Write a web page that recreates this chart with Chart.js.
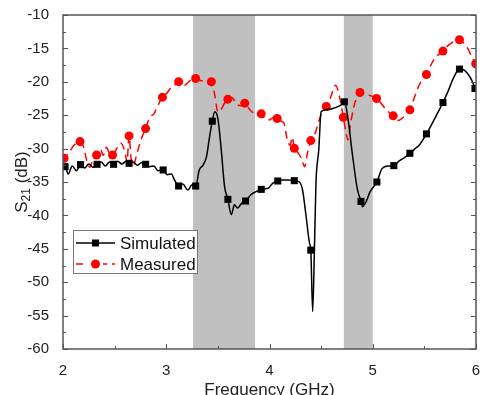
<!DOCTYPE html>
<html>
<head>
<meta charset="utf-8">
<script src="https://cdn.jsdelivr.net/npm/chart.js@4"></script>
<style>
  html, body { margin: 0; padding: 0; background: #fff; }
  #wrap { width: 481px; height: 395px; }
</style>
</head>
<body>
<div id="wrap"><canvas id="chart-s21"></canvas></div>
<script>
// simulated curve (GHz, dB)
const sim_freq = [2.00, 2.02, 2.05, 2.09, 2.13, 2.17, 2.21, 2.25, 2.29, 2.33, 2.37, 2.41, 2.45, 2.49, 2.53, 2.57, 2.61, 2.64, 2.68, 2.72, 2.76, 2.80, 2.84, 2.88, 2.92, 2.97, 3.01, 3.05, 3.08, 3.12, 3.16, 3.21, 3.25, 3.285, 3.32, 3.355, 3.39, 3.42, 3.446, 3.47, 3.50, 3.53, 3.565, 3.597, 3.63, 3.66, 3.69, 3.73, 3.768, 3.82, 3.87, 3.92, 3.96, 3.99, 4.03, 4.08, 4.13, 4.18, 4.24, 4.29, 4.32, 4.355, 4.387, 4.40, 4.418, 4.435, 4.45, 4.477, 4.50, 4.55, 4.63, 4.69, 4.725, 4.76, 4.80, 4.85, 4.886, 4.90, 4.94, 4.97, 5.04, 5.09, 5.15, 5.204, 5.26, 5.31, 5.36, 5.41, 5.45, 5.52, 5.57, 5.62, 5.68, 5.73, 5.78, 5.84, 5.88, 5.92, 5.96, 5.99];
const sim_db = [-33.2, -32.7, -33.8, -32.6, -33.3, -32.4, -32.9, -32.3, -32.8, -32.35, -32.0, -32.6, -32.0, -32.35, -31.9, -32.3, -31.9, -32.2, -32.0, -32.5, -32.1, -32.35, -32.7, -32.6, -33.3, -33.2, -33.9, -33.8, -34.7, -35.6, -35.3, -36.2, -35.4, -35.6, -33.2, -32.5, -31.2, -28.2, -25.9, -24.5, -25.5, -29.7, -35.7, -37.6, -39.9, -38.4, -38.9, -38.2, -37.85, -36.9, -36.45, -36.1, -36.0, -35.9, -35.2, -34.85, -34.7, -34.7, -34.8, -35.0, -36.2, -40.2, -44.1, -45.2, -54.4, -45.2, -35.2, -30.2, -24.5, -24.2, -23.9, -23.5, -23.0, -25.5, -30.5, -36.0, -37.9, -38.7, -37.8, -36.6, -35.0, -33.0, -32.6, -32.55, -31.8, -31.3, -30.7, -30.0, -29.5, -27.8, -26.4, -24.9, -23.1, -21.4, -19.5, -18.1, -18.2, -18.8, -19.8, -21.0];
// simulated markers
const sim_mark_freq = [2.02, 2.17, 2.33, 2.49, 2.64, 2.80, 2.97, 3.12, 3.285, 3.446, 3.597, 3.768, 3.92, 4.08, 4.24, 4.40, 4.725, 4.886, 5.04, 5.204, 5.36, 5.52, 5.68, 5.84, 5.99];
const sim_mark_db = [-32.7, -32.4, -32.35, -32.35, -32.2, -32.35, -33.2, -35.6, -35.6, -25.9, -37.6, -37.85, -36.1, -34.85, -34.8, -45.2, -23.0, -37.9, -35.0, -32.55, -30.7, -27.8, -23.1, -18.1, -21.0];

// measured curve (GHz, dB)
const meas_freq = [2.00, 2.01, 2.06, 2.10, 2.165, 2.20, 2.23, 2.26, 2.29, 2.325, 2.36, 2.39, 2.42, 2.45, 2.48, 2.52, 2.56, 2.60, 2.62, 2.64, 2.66, 2.68, 2.72, 2.76, 2.80, 2.84, 2.88, 2.92, 2.963, 3.00, 3.04, 3.08, 3.12, 3.17, 3.21, 3.25, 3.285, 3.33, 3.38, 3.437, 3.47, 3.50, 3.53, 3.56, 3.597, 3.64, 3.68, 3.72, 3.76, 3.80, 3.84, 3.88, 3.92, 3.96, 4.00, 4.04, 4.074, 4.10, 4.14, 4.17, 4.20, 4.22, 4.24, 4.27, 4.31, 4.34, 4.37, 4.40, 4.44, 4.48, 4.51, 4.55, 4.59, 4.64, 4.68, 4.715, 4.74, 4.76, 4.79, 4.83, 4.876, 4.92, 4.96, 5.00, 5.037, 5.08, 5.12, 5.16, 5.198, 5.24, 5.29, 5.33, 5.36, 5.40, 5.44, 5.48, 5.52, 5.56, 5.60, 5.64, 5.68, 5.72, 5.76, 5.80, 5.84, 5.88, 5.92, 5.96, 5.997];
const meas_db = [-31.8, -31.45, -30.6, -29.6, -28.95, -29.8, -31.8, -32.8, -31.5, -30.95, -30.0, -31.0, -29.8, -30.7, -30.95, -30.0, -29.2, -30.5, -32.0, -28.1, -31.5, -32.5, -30.5, -28.5, -27.0, -25.3, -24.8, -23.5, -22.3, -21.8, -21.0, -20.5, -19.98, -20.6, -20.1, -19.6, -19.5, -19.8, -19.9, -20.0, -22.0, -24.5, -24.2, -23.3, -22.6, -22.4, -23.3, -23.6, -23.2, -24.0, -24.6, -24.6, -24.8, -25.6, -25.7, -25.3, -25.5, -25.8, -26.2, -28.5, -29.5, -28.3, -29.95, -30.5, -31.5, -32.7, -30.5, -28.8, -27.8, -25.8, -24.5, -23.7, -22.4, -20.5, -22.4, -25.3, -27.5, -28.7, -25.8, -23.0, -21.6, -21.7, -22.0, -22.2, -22.5, -23.2, -24.0, -24.6, -25.1, -25.8, -25.4, -24.7, -24.2, -22.5, -20.8, -19.7, -18.9, -17.6, -16.5, -15.9, -15.4, -14.7, -14.2, -13.9, -13.7, -14.2, -15.0, -16.3, -17.3];
// measured markers
const meas_mark_freq = [2.01, 2.165, 2.325, 2.48, 2.64, 2.80, 2.963, 3.12, 3.285, 3.437, 3.597, 3.76, 3.92, 4.074, 4.24, 4.40, 4.55, 4.715, 4.876, 5.037, 5.198, 5.36, 5.52, 5.68, 5.84, 5.997];
const meas_mark_db = [-31.45, -28.95, -30.95, -30.95, -28.1, -27.0, -22.3, -19.98, -19.5, -20.0, -22.6, -23.2, -24.8, -25.5, -29.95, -28.8, -23.7, -25.3, -21.6, -22.5, -25.1, -24.2, -18.9, -15.4, -13.7, -17.3];

// shaded bands (GHz)
const band_start = [3.26, 4.72];
const band_end = [3.86, 5.0];

const series_names = ["Simulated", "Measured"];

const pts = (xs, ys) => xs.map((x, i) => ({ x: x, y: ys[i] }));

const FONT = "'Liberation Sans', Arial, sans-serif";

// grey bands behind the curves
const bands_plugin = {
    id: "bands",
    beforeDatasetsDraw(chart) {
        const ctx = chart.ctx;
        const area = chart.chartArea;
        const xs = chart.scales.x;
        ctx.save();
        ctx.fillStyle = "#c0c0c0";
        for (let i = 0; i < band_start.length; i++) {
            const a = xs.getPixelForValue(band_start[i]);
            const b = xs.getPixelForValue(band_end[i]);
            ctx.fillRect(a, area.top, b - a, area.bottom - area.top);
        }
        ctx.restore();
    },
};

// frame, inward ticks, axis titles, legend
const frame_plugin = {
    id: "frame",
    afterDraw(chart) {
        const ctx = chart.ctx;
        const area = chart.chartArea;
        const xs = chart.scales.x;
        const ys = chart.scales.y;
        ctx.save();
        ctx.strokeStyle = "#555";
        ctx.lineWidth = 1.5;
        ctx.strokeRect(area.left, area.top, area.right - area.left, area.bottom - area.top);

        ctx.lineWidth = 1;
        ctx.beginPath();
        // x ticks (bottom, pointing up)
        for (let v = xs.min; v <= xs.max + 1e-9; v += 0.5) {
            const px = Math.round(xs.getPixelForValue(v)) + 0.5;
            const len = Math.abs(v - Math.round(v)) < 1e-9 ? 5 : 3;
            ctx.moveTo(px, area.bottom);
            ctx.lineTo(px, area.bottom - len);
        }
        // y ticks (left and right, inward)
        for (let v = ys.min; v <= ys.max + 1e-9; v += 2.5) {
            const py = Math.round(ys.getPixelForValue(v)) + 0.5;
            const len = Math.abs(v / 5 - Math.round(v / 5)) < 1e-9 ? 5 : 3;
            ctx.moveTo(area.left, py);
            ctx.lineTo(area.left + len, py);
            ctx.moveTo(area.right, py);
            ctx.lineTo(area.right - len, py);
        }
        ctx.stroke();

        // axis titles
        ctx.fillStyle = "#222";
        ctx.textBaseline = "alphabetic";
        ctx.font = "17px " + FONT;
        ctx.textAlign = "center";
        ctx.fillText("Frequency (GHz)", (area.left + area.right) / 2, 395);

        ctx.save();
        ctx.translate(27, (area.top + area.bottom) / 2);
        ctx.rotate(-Math.PI / 2);
        ctx.textAlign = "left";
        const w_s = ctx.measureText("S").width;
        ctx.font = "12px " + FONT;
        const w_sub = ctx.measureText("21").width;
        ctx.font = "17px " + FONT;
        const w_rest = ctx.measureText(" (dB)").width;
        let x0 = -(w_s + w_sub + w_rest) / 2;
        ctx.fillText("S", x0, 0);
        ctx.font = "12px " + FONT;
        ctx.fillText("21", x0 + w_s, 3);
        ctx.font = "17px " + FONT;
        ctx.fillText(" (dB)", x0 + w_s + w_sub, 0);
        ctx.restore();

        // legend
        const lx = 73, ly = 230, lw = 124, lh = 43;
        ctx.fillStyle = "#fff";
        ctx.fillRect(lx, ly, lw, lh);
        ctx.strokeStyle = "#777";
        ctx.lineWidth = 1;
        ctx.strokeRect(lx + 0.5, ly + 0.5, lw, lh);

        const rows = [ly + 13, ly + 34];
        // simulated
        ctx.strokeStyle = "#000";
        ctx.lineWidth = 1.5;
        ctx.beginPath();
        ctx.moveTo(76, rows[0]);
        ctx.lineTo(115, rows[0]);
        ctx.stroke();
        ctx.fillStyle = "#000";
        ctx.fillRect(95.5 - 3.5, rows[0] - 3.5, 7, 7);
        // measured
        ctx.strokeStyle = "#ff0000";
        ctx.setLineDash([7, 5]);
        ctx.beginPath();
        ctx.moveTo(76, rows[1]);
        ctx.lineTo(115, rows[1]);
        ctx.stroke();
        ctx.setLineDash([]);
        ctx.fillStyle = "#fff";
        ctx.fillRect(88, rows[1] - 5, 15, 10);
        ctx.fillStyle = "#ff0000";
        ctx.beginPath();
        ctx.arc(95.5, rows[1], 4.5, 0, Math.PI * 2);
        ctx.fill();

        ctx.fillStyle = "#111";
        ctx.font = "17px " + FONT;
        ctx.textAlign = "left";
        ctx.textBaseline = "middle";
        ctx.fillText(series_names[0], 120, rows[0] + 1);
        ctx.fillText(series_names[1], 120, rows[1] + 1);
        ctx.restore();
    },
};

const ctx = document.getElementById("chart-s21");

new Chart(ctx, {
    type: "line",
    data: {
        datasets: [
            {
                label: series_names[0],
                data: pts(sim_freq, sim_db),
                borderColor: "#000",
                borderWidth: 1.5,
                pointRadius: 0,
                cubicInterpolationMode: "monotone",
                fill: false,
            },
            {
                label: series_names[0] + " markers",
                data: pts(sim_mark_freq, sim_mark_db),
                showLine: false,
                pointStyle: "rect",
                pointRadius: 5,
                backgroundColor: "#000",
                borderColor: "#000",
                borderWidth: 0,
            },
            {
                label: series_names[1],
                data: pts(meas_freq, meas_db),
                borderColor: "#ff0000",
                borderWidth: 1.5,
                borderDash: [8, 5],
                pointRadius: 0,
                cubicInterpolationMode: "monotone",
                fill: false,
            },
            {
                label: series_names[1] + " markers",
                data: pts(meas_mark_freq, meas_mark_db),
                showLine: false,
                pointStyle: "circle",
                pointRadius: 4.5,
                backgroundColor: "#ff0000",
                borderColor: "#ff0000",
                borderWidth: 0,
            },
        ],
    },
    options: {
        responsive: true,
        maintainAspectRatio: false,
        animation: false,
        layout: { padding: { left: 0, top: 15, right: 3, bottom: 0 } },
        plugins: {
            legend: { display: false },
            tooltip: { enabled: false },
        },
        scales: {
            x: {
                type: "linear",
                min: 2,
                max: 6,
                grid: { display: false },
                border: { display: false },
                ticks: {
                    stepSize: 1,
                    padding: 5,
                    color: "#222",
                    font: { family: FONT, size: 15 },
                    maxRotation: 0,
                },
                afterFit: (scale) => {
                    scale.height = 46;
                    scale.paddingLeft = 0;
                    scale.paddingRight = 0;
                },
            },
            y: {
                type: "linear",
                min: -60,
                max: -10,
                grid: { display: false },
                border: { display: false },
                ticks: {
                    stepSize: 5,
                    padding: 6,
                    color: "#222",
                    font: { family: FONT, size: 15 },
                },
                afterFit: (scale) => {
                    scale.width = 63;
                    scale.paddingTop = 0;
                    scale.paddingBottom = 0;
                },
            },
        },
    },
    plugins: [bands_plugin, frame_plugin],
});
</script>
</body>
</html>
